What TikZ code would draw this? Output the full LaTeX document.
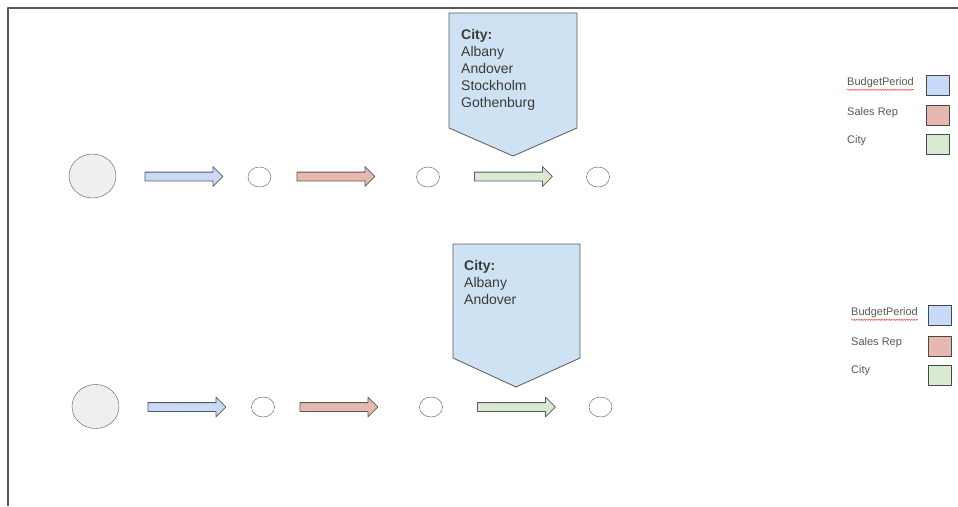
\documentclass[tikz,border=0pt]{standalone}
\usepackage{fontspec}
\setmainfont{Liberation Sans}
\usetikzlibrary{shapes.geometric,shapes.arrows,decorations.pathmorphing}
\definecolor{edgegray}{HTML}{595959}
\definecolor{textgray}{HTML}{3A3A3A}
\definecolor{startgray}{HTML}{EFEFEF}
\definecolor{calloutblue}{HTML}{CFE2F3}
\definecolor{periodblue}{HTML}{C9DAF8}
\definecolor{repred}{HTML}{E6B8AF}
\definecolor{citygreen}{HTML}{D9EAD3}

\begin{document}
\begin{tikzpicture}[x=1pt,y=-1pt,join=round,
        start/.style={ellipse,draw=edgegray,fill=startgray,minimum width=47pt,minimum height=44pt,inner sep=0pt},
        stop/.style={ellipse,draw=edgegray,fill=white,minimum width=23pt,minimum height=20pt,inner sep=0pt},
        flow/.style={single arrow,anchor=tail,draw=edgegray,fill=#1,minimum height=78pt,inner xsep=0pt,inner ysep=4pt,
                single arrow head extend=5.5pt,single arrow head indent=0pt,line width=.8pt},
        key/.style={draw=edgegray!80!black,fill=#1,minimum width=23pt,minimum height=20pt,inner sep=0pt,line width=1pt},
        keytext/.style={anchor=west,inner sep=0pt,text=textgray!85,font=\fontsize{11}{12}\selectfont},
        filter/.style={anchor=north west,inner sep=0pt,align=left,text=textgray,font=\fontsize{14}{17}\selectfont}] % two filter paths
        \useasboundingbox (0,0) rectangle (958,506);
        \draw[edgegray,line width=1.5pt] (958,8) -- (8,8) -- (8,506);
        % first path
        \filldraw[draw=edgegray,fill=calloutblue,line width=.8pt](449,13)--(577,13)--(577,128)--(513,156)--(449,128)--cycle;
        \node[filter] (f1) at (461,29) {\textbf{City:}\\Albany\\Andover\\Stockholm\\Gothenburg};
        \node[start] (s1) at (92.5,176) {};
        \node[flow=periodblue] (b1) at (144.5,176.5) {};
        \node[stop] (p1) at (259.5,177) {};
        \node[flow=repred] (r1) at (296.5,176.5) {};
        \node[stop] (q1) at (428,177) {};
        \node[flow=citygreen] (g1) at (474,176.5) {};
        \node[stop] (c1) at (598,177) {};
        \node[keytext] (kb1) at (847,83) {BudgetPeriod};
        \node[keytext] (kr1) at (847,113) {Sales Rep};
        \node[keytext] (kc1) at (847,141) {City};
        \draw[red!80,line width=.4pt,decorate,decoration={snake,segment length=2.5pt,amplitude=.7pt}]
                ([yshift=-1.5pt]kb1.south west) -- ([yshift=-1.5pt]kb1.south east);
        \node[key=periodblue] (xb1) at (937.5,85) {};
        \node[key=repred] (xr1) at (937.5,115.5) {};
        \node[key=citygreen] (xc1) at (937.5,144.5) {};
        % second path
        \filldraw[draw=edgegray,fill=calloutblue,line width=.8pt](453,244)--(580,244)--(580,358)--(516,387)--(453,358)--cycle;
        \node[filter] (f2) at (464,260) {\textbf{City:}\\Albany\\Andover};
        \node[start] (s2) at (95.5,406.5) {};
        \node[flow=periodblue] (b2) at (147.5,407) {};
        \node[stop] (p2) at (263,407) {};
        \node[flow=repred] (r2) at (299.5,407) {};
        \node[stop] (q2) at (431,407) {};
        \node[flow=citygreen] (g2) at (477,407) {};
        \node[stop] (c2) at (600.5,407) {};
        \node[keytext] (kb2) at (851,313) {BudgetPeriod};
        \node[keytext] (kr2) at (851,343) {Sales Rep};
        \node[keytext] (kc2) at (851,371) {City};
        \draw[red!80,line width=.4pt,decorate,decoration={snake,segment length=2.5pt,amplitude=.7pt}]
                ([yshift=-1.5pt]kb2.south west) -- ([yshift=-1.5pt]kb2.south east);
        \node[key=periodblue] (xb2) at (940,315) {};
        \node[key=repred] (xr2) at (940,346.5) {};
        \node[key=citygreen] (xc2) at (940,375) {};
\end{tikzpicture}
\end{document}
